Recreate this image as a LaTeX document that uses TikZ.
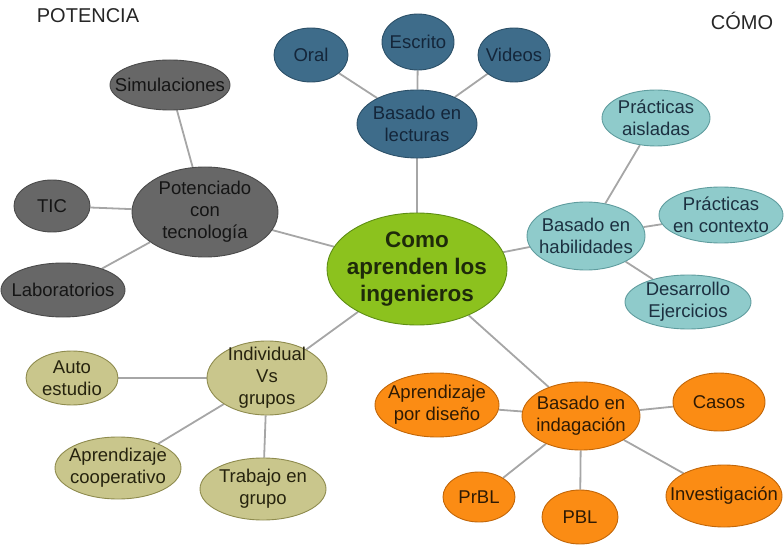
\documentclass[tikz,border=0pt]{standalone}
\usepackage{fontspec}
\setmainfont{Liberation Sans}
\usetikzlibrary{shapes.geometric,backgrounds}

\definecolor{lecfill}{HTML}{3E6C8A}
\definecolor{lecline}{HTML}{2C5068}
\definecolor{lectext}{HTML}{14263A}
\definecolor{tecfill}{HTML}{676767}
\definecolor{tecline}{HTML}{4A4A4A}
\definecolor{tectext}{HTML}{151515}
\definecolor{cenfill}{HTML}{8CC21E}
\definecolor{cenline}{HTML}{5E8E14}
\definecolor{centext}{HTML}{1E2A0A}
\definecolor{habfill}{HTML}{8FCBCB}
\definecolor{habline}{HTML}{5F9C9E}
\definecolor{habtext}{HTML}{1C3040}
\definecolor{indfill}{HTML}{C9C68C}
\definecolor{indline}{HTML}{8E8B4E}
\definecolor{indtext}{HTML}{26230E}
\definecolor{orgfill}{HTML}{FB8C14}
\definecolor{orgline}{HTML}{C26608}
\definecolor{orgtext}{HTML}{2E1A04}
\definecolor{linkcol}{HTML}{A6A6A6}

\tikzset{
  % negative inner sep lets the given minimum size fix the ellipse, even when
  % the text runs close to its rim
  bubble/.style={ellipse, inner xsep=-40pt, inner ysep=-30pt, align=center,
    line width=0.9pt, font=\fontsize{18.5}{22}\selectfont},
  lec/.style={bubble, fill=lecfill, draw=lecline, text=lectext},
  tec/.style={bubble, fill=tecfill, draw=tecline, text=tectext},
  hab/.style={bubble, fill=habfill, draw=habline, text=habtext},
  ind/.style={bubble, fill=indfill, draw=indline, text=indtext},
  org/.style={bubble, fill=orgfill, draw=orgline, text=orgtext},
  hub/.style={bubble, fill=cenfill, draw=cenline, text=centext,
    font=\fontsize{22.5}{27}\selectfont\bfseries},
  size/.style 2 args={minimum width=#1pt, minimum height=#2pt},
  link/.style={draw=linkcol, line width=1.8pt},
  corner/.style={font=\fontsize{20}{22}\selectfont, text=black!85, inner sep=0pt}
}

\begin{document}
\begin{tikzpicture}[x=1pt,y=-1pt]
\useasboundingbox (0,0) rectangle (784,545);

% corner headings
\node[corner] (potencia) at (88,16) {POTENCIA};
\node[corner] (como) at (742,21) {CÓMO};

% centre
\node[hub, size={180}{112}] (centro) at (417,269) {Como\\aprenden los\\ingenieros};

% reading branch
\node[lec, size={120}{68}] (lecturas) at (417,124) {Basado en\\lecturas};
\node[lec, size={74}{54}] (oral) at (311,55) {Oral};
\node[lec, size={72}{56}] (escrito) at (418,42) {Escrito};
\node[lec, size={72}{54}] (videos) at (514,55) {Videos};

% technology branch
\node[tec, size={146}{90}] (tecno) at (205,212) {Potenciado\\con\\tecnología};
\node[tec, size={120}{50}] (simul) at (170,85) {Simulaciones};
\node[tec, size={76}{52}] (tic) at (52,206) {TIC};
\node[tec, size={124}{54}] (labs) at (63,290) {Laboratorios};

% skills branch
\node[hab, size={118}{68}] (habil) at (586,236) {Basado en\\habilidades};
\node[hab, size={108}{56}] (aisladas) at (656,118) {Prácticas\\aisladas};
\node[hab, size={124}{56}] (contexto) at (721,215) {Prácticas\\en contexto};
\node[hab, size={126}{54}] (ejerc) at (688,302) {Desarrollo\\Ejercicios};

% group branch
\node[ind, size={120}{74}] (indiv) at (267,378) {Individual\\Vs\\grupos};
\node[ind, size={92}{54}] (auto) at (72,378) {Auto\\estudio};
\node[ind, size={126}{62}] (coop) at (118,468) {Aprendizaje\\cooperativo};
\node[ind, size={126}{62}] (trabajo) at (263,489) {Trabajo en\\grupo};

% inquiry branch
\node[org, size={118}{68}] (indag) at (581,416) {Basado en\\indagación};
\node[org, size={124}{64}] (diseno) at (437,405) {Aprendizaje\\por diseño};
\node[org, size={92}{58}] (casos) at (719,402) {Casos};
\node[org, size={72}{50}] (prbl) at (479,497) {PrBL};
\node[org, size={76}{54}] (pbl) at (580,517) {PBL};
\node[org, size={116}{62}] (invest) at (724,496) {Investigación};

% connectors, drawn beneath the bubbles
\begin{scope}[on background layer]
  \foreach \a/\b in {centro/lecturas, lecturas/oral, lecturas/escrito, lecturas/videos,
                     centro/tecno, tecno/simul, tecno/tic, tecno/labs,
                     centro/habil, habil/aisladas, habil/contexto, habil/ejerc,
                     centro/indiv, indiv/auto, indiv/coop, indiv/trabajo,
                     centro/indag, indag/diseno, indag/casos, indag/prbl, indag/pbl, indag/invest}
    \draw[link] (\a) -- (\b);
\end{scope}
\end{tikzpicture}
\end{document}
